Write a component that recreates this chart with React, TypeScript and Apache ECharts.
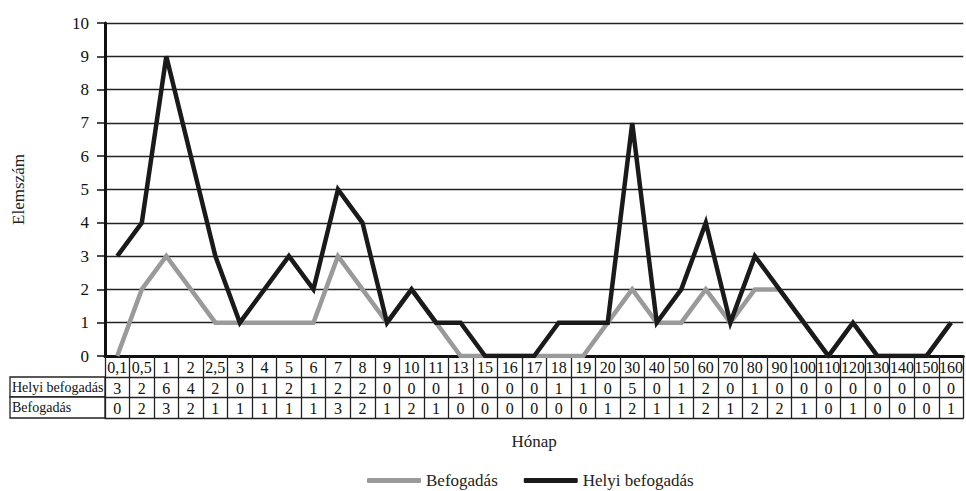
import React, { useEffect, useRef } from "react";
import * as echarts from "echarts";

const categories = ["0,1","0,5","1","2","2,5","3","4","5","6","7","8","9","10","11","13","15","16","17","18","19","20","30","40","50","60","70","80","90","100","110","120","130","140","150","160"];
const helyi = [3,2,6,4,2,0,1,2,1,2,2,0,0,0,1,0,0,0,1,1,0,5,0,1,2,0,1,0,0,0,0,0,0,0,0];
const befogadas = [0,2,3,2,1,1,1,1,1,3,2,1,2,1,0,0,0,0,0,0,1,2,1,1,2,1,2,2,1,0,1,0,0,0,1];
const seriesNames = ["Befogadás", "Helyi befogadás"];
const yTicks = { min: 0, max: 10, interval: 1 };

const FONT = "'Liberation Serif', 'DejaVu Serif', serif";

export default function App() {
  const ref = useRef<HTMLDivElement>(null);
  useEffect(() => {
    document.body.style.margin = "0";
    const chart = echarts.init(ref.current!, null, { renderer: "svg" });
    const tableAxis = (offset: number, values: (number | string)[] | null, tickLen: number) => ({
      type: "category",
      data: categories,
      position: "bottom",
      offset,
      boundaryGap: true,
      axisLine: { show: true, lineStyle: { color: "#222", width: 1.3 } },
      axisTick: { show: tickLen > 0, interval: 0, length: tickLen, lineStyle: { color: "#222", width: 1.3 } },
      axisLabel: {
        show: values !== null,
        interval: 0,
        margin: 3,
        fontFamily: FONT,
        fontSize: 16,
        color: "#111",
        formatter: (_v: string, i: number) => (values ? String(values[i]) : ""),
      },
      splitLine: { show: false },
    });
    const option: any = {
      animation: false,
      grid: { left: 105, right: 0, top: 23, bottom: 135, containLabel: false },
      legend: {
        top: 467,
        left: 362,
        itemWidth: 54,
        itemHeight: 5,
        itemGap: 26,
        icon: "roundRect",
        textStyle: { fontFamily: FONT, fontSize: 17, color: "#222" },
        data: seriesNames,
      },
      xAxis: [
        {
          ...tableAxis(0, categories, 21),
          name: "Hónap",
          nameLocation: "middle",
          nameGap: 77,
          nameTextStyle: { fontFamily: FONT, fontSize: 17, color: "#222" },
          axisLine: { show: true, lineStyle: { color: "#111", width: 3 } },
        },
        tableAxis(21, helyi, 20),
        tableAxis(41, befogadas, 21),
        tableAxis(62, null, 0),
      ],
      yAxis: {
        type: "value",
        min: yTicks.min,
        max: yTicks.max,
        interval: yTicks.interval,
        name: "Elemszám",
        nameLocation: "middle",
        nameGap: 78,
        nameTextStyle: { fontFamily: FONT, fontSize: 17, color: "#222" },
        axisLine: { show: true, lineStyle: { color: "#111", width: 3 } },
        axisTick: { show: true, length: 8, lineStyle: { color: "#111", width: 1.5 } },
        axisLabel: { fontFamily: FONT, fontSize: 17, color: "#111", margin: 16 },
        splitLine: { show: true, lineStyle: { color: "#222", width: 1.4 } },
      },
      graphic: [
        {
          type: "group",
          children: [
            { type: "rect", shape: { x: 10, y: 377, width: 95, height: 20 }, style: { fill: "#fff", stroke: "#222", lineWidth: 1.3 } },
            { type: "rect", shape: { x: 10, y: 397, width: 95, height: 21 }, style: { fill: "#fff", stroke: "#222", lineWidth: 1.3 } },
            { type: "text", x: 12, y: 387, style: { text: "Helyi befogadás", fontFamily: FONT, fontSize: 14, fill: "#111", verticalAlign: "middle" } },
            { type: "text", x: 12, y: 407.5, style: { text: "Befogadás", fontFamily: FONT, fontSize: 14, fill: "#111", verticalAlign: "middle" } },
          ],
        },
      ],
      series: [
        {
          name: seriesNames[0],
          type: "line",
          stack: "total",
          data: befogadas,
          symbol: "none",
          lineStyle: { color: "#9a9a9a", width: 4.5, join: "miter" },
          itemStyle: { color: "#9a9a9a" },
        },
        {
          name: seriesNames[1],
          type: "line",
          stack: "total",
          data: helyi,
          symbol: "none",
          lineStyle: { color: "#1a1a1a", width: 4.5, join: "miter" },
          itemStyle: { color: "#1a1a1a" },
        },
      ],
    };
    chart.setOption(option);
    return () => chart.dispose();
  }, []);
  return <div ref={ref} style={{ width: 966, height: 491, background: "#fff" }} />;
}
